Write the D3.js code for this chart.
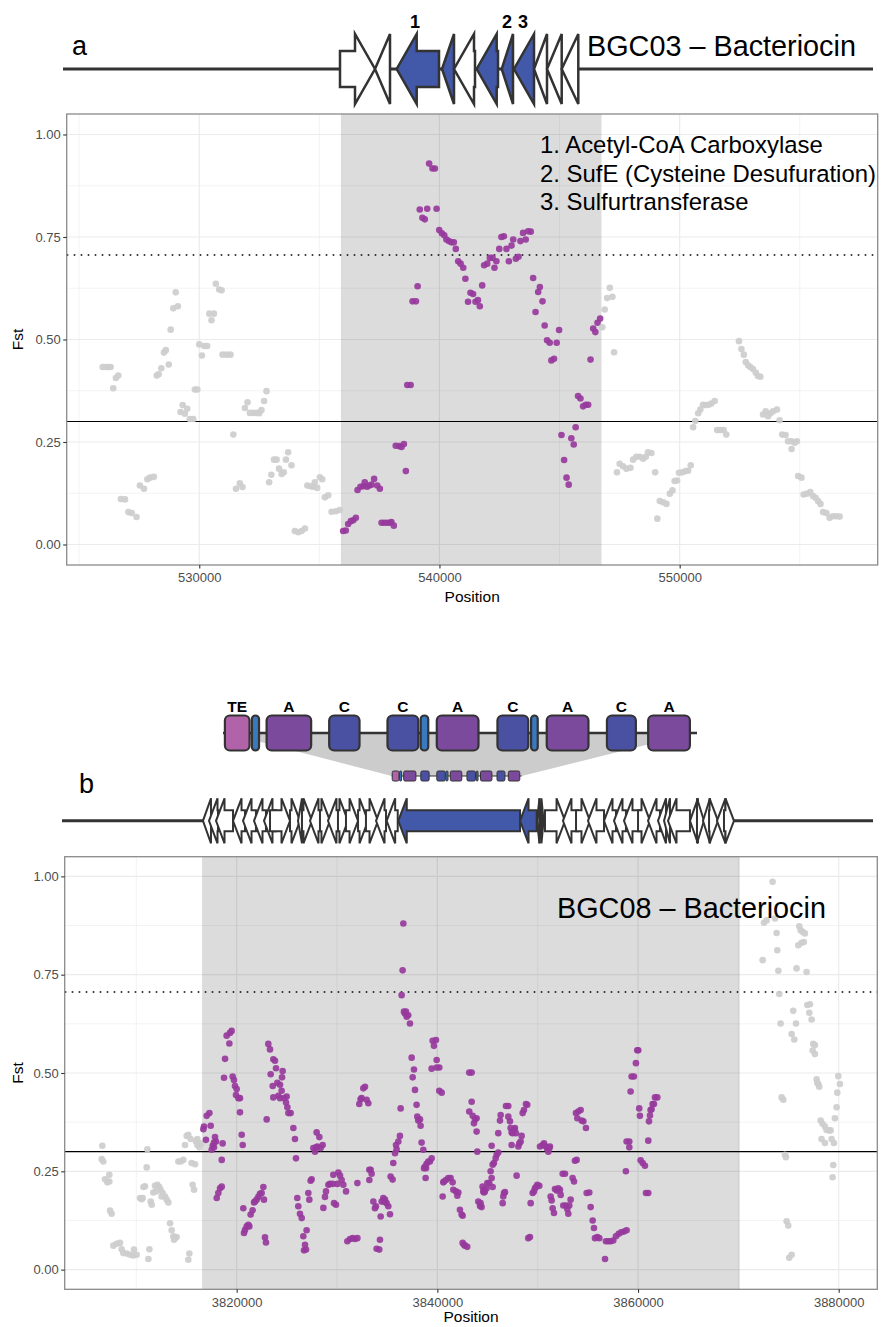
<!DOCTYPE html>
<html>
<head>
<meta charset="utf-8">
<script src="https://cdn.jsdelivr.net/npm/d3@7"></script>
<style>
  body { margin: 0; background: #fff; }
  text { font-family: "Liberation Sans", Arial, Helvetica, sans-serif; }
</style>
</head>
<body>
<div id="chart"></div>
<script>
"use strict";

// ----------------------------------------
//  Shared axis values
// ----------------------------------------
const yTicks = [0, 0.25, 0.5, 0.75, 1];
const yMinor = [0.125, 0.375, 0.625, 0.875];
const meanLine = 0.3;      // solid line
const cutLine = 0.706;     // dotted line

// ----------------------------------------
//  Panel a : BGC03
// ----------------------------------------
const regionA = [535897, 546745];
const xTicksA = [530000, 540000, 550000];
const xMinorA = [525000, 535000, 545000, 555000];
const snpsA = [
  [525980,.433],[526120,.433],[526210,.433],[526310,.433],[526420,.381],[526530,.406],[526630,.412],
  [526740,.111],[526910,.110],[527050,.079],[527190,.077],[527390,.067],[527530,.144],[527700,.136],
  [527840,.159],[527950,.163],[528110,.165],[528230,.412],[528310,.415],[528420,.430],[528530,.468],
  [528610,.474],[528730,.439],[528810,.524],[528920,.576],[529110,.581],[529020,.615],[529220,.323],
  [529400,.319],[529310,.340],[529500,.331],[529610,.306],[529750,.306],[529820,.378],[529920,.378],
  [530000,.488],[530110,.461],[530210,.484],[530330,.484],[530420,.563],[530610,.563],[530510,.547],
  [530690,.636],[530830,.622],[530930,.620],[530970,.463],[531140,.463],[531300,.463],[531420,.268],
  [531530,.136],[531690,.149],[531800,.140],[531900,.333],[532010,.347],[532110,.321],[532250,.321],
  [532390,.321],[532500,.320],[532590,.328],[532700,.350],[532800,.374],[532910,.152],[533000,.170],
  [533110,.207],[533220,.207],[533320,.185],[533430,.172],[533520,.176],[533610,.207],[533700,.225],
  [533840,.193],[533980,.033],[534120,.030],[534260,.033],[534400,.039],[534500,.144],[534630,.142],
  [534740,.141],[534810,.152],[534910,.138],[535020,.164],[535120,.159],[535230,.115],[535370,.120],
  [535510,.080],[535690,.081],[535850,.084],
  [535990,.033],[536100,.034],[536200,.050],[536310,.057],[536410,.059],[536520,.065],[536590,.133],
  [536710,.141],[536830,.142],[536890,.152],[536990,.141],[537080,.144],[537170,.146],[537280,.160],
  [537410,.144],[537520,.136],[537590,.053],[537700,.053],[537820,.053],[537940,.053],[538000,.055],
  [538100,.046],[538180,.241],[538320,.240],[538420,.238],[538520,.245],[538600,.179],[538660,.389],
  [538800,.389],[538880,.593],[539020,.593],[539090,.630],[539180,.817],[539490,.819],[539880,.819],
  [539290,.797],[539390,.793],[539570,.929],[539710,.917],[539810,.917],[539990,.767],[540100,.759],
  [540200,.754],[540290,.744],[540390,.740],[540500,.737],[540600,.737],[540680,.721],[540780,.691],
  [540880,.685],[540990,.675],[541080,.648],[541190,.592],[541290,.614],[541400,.611],[541500,.592],
  [541600,.596],[541680,.581],[541780,.632],[541860,.681],[541990,.685],[542100,.699],[542210,.699],
  [542290,.675],[542370,.691],[542490,.721],[542580,.750],[542680,.752],[542790,.721],[542890,.691],
  [543000,.729],[543070,.744],[543180,.697],[543290,.702],[543370,.740],[543480,.760],[543590,.744],
  [543690,.764],[543800,.763],[543900,.650],[544110,.616],[544180,.628],[544290,.593],[544000,.567],
  [544380,.534],[544480,.498],[544590,.492],[544660,.449],[544770,.453],[544880,.492],[544980,.523],
  [545080,.267],[545190,.206],[545290,.163],[545380,.146],[545490,.259],[545590,.244],[545670,.286],
  [545770,.362],[545870,.356],[545980,.337],[546090,.341],[546190,.341],[546290,.451],[546400,.527],
  [546490,.518],[546580,.541],[546690,.551],
  [546780,.530],[546880,.573],[546980,.601],[547090,.626],[547200,.604],[547270,.469],[547390,.176],
  [547500,.197],[547640,.191],[547780,.185],[547950,.187],[548060,.207],[548200,.214],[548340,.214],
  [548480,.209],[548590,.214],[548680,.225],[548820,.223],[548980,.176],[549070,.063],[549170,.106],
  [549310,.103],[549450,.099],[549590,.124],[549700,.132],[549790,.155],[549890,.156],[549970,.175],
  [550110,.176],[550250,.179],[550350,.180],[550460,.193],[550560,.286],[550650,.301],[550770,.320],
  [550860,.329],[550970,.341],[551080,.340],[551210,.341],[551320,.344],[551460,.350],[551560,.279],
  [551690,.279],[551830,.279],[551940,.268],[552470,.496],[552570,.477],[552670,.463],[552750,.445],
  [552850,.437],[552940,.433],[553050,.428],[553170,.419],[553260,.411],[553360,.409],[553470,.317],
  [553580,.325],[553680,.313],[553780,.320],[553890,.325],[554050,.329],[554160,.303],[554270,.268],
  [554410,.267],[554510,.252],[554650,.252],[554790,.248],[554880,.252],[554660,.233],[554930,.167],
  [555070,.163],[555160,.122],[555300,.124],[555440,.128],[555550,.118],[555660,.114],[555760,.106],
  [555860,.099],[555970,.079],[556110,.077],[556240,.065],[556380,.069],[556520,.069],[556660,.068]
];

// genes of BGC03 (kb on the track, strand, highlighted)
const genesA = [
  [0, 3.5, 1, false], [3.5, 5.0, -1, false], [5.67, 9.9, -1, true], [10.2, 11.4, -1, true],
  [11.4, 13.5, -1, false], [13.67, 15.8, -1, true], [16.17, 17.3, -1, true], [17.4, 19.4, -1, true],
  [19.4, 20.7, -1, false], [20.7, 22.17, -1, false], [22.17, 23.83, -1, false]
];
const geneLabelsA = [["1", 7.5], ["2", 16.7], ["3", 18.3]];
const notesA = ["1. Acetyl-CoA Carboxylase", "2. SufE (Cysteine Desufuration)", "3. Sulfurtransferase"];

// ----------------------------------------
//  Panel b : BGC08
// ----------------------------------------
const regionB = [3816550, 3870134];
const xTicksB = [3820000, 3840000, 3860000, 3880000];
const xMinorB = [3810000, 3830000, 3850000, 3870000];
const snpsB = [
  [3806610,.315],[3806550,.281],[3806710,.275],[3807310,.241],[3806880,.230],[3807110,.222],[3807310,.224],
  [3807380,.150],[3807540,.142],[3807710,.061],[3808040,.066],[3808370,.068],[3808540,.052],[3808700,.042],
  [3809040,.041],[3809370,.038],[3809700,.036],[3810030,.038],[3809770,.051],[3811100,.306],[3811030,.260],
  [3810860,.212],[3810700,.210],[3810370,.182],[3810530,.179],[3810630,.182],[3811430,.173],[3811530,.165],
  [3811300,.052],[3811200,.027],[3811860,.213],[3812090,.216],[3812290,.210],[3811690,.196],[3811960,.199],
  [3812420,.203],[3812620,.195],[3812860,.186],[3813020,.178],[3813190,.171],[3812520,.186],[3813360,.118],
  [3813520,.100],[3813690,.085],[3813850,.080],[3814020,.083],[3813750,.076],[3814190,.275],[3814420,.275],
  [3814680,.279],[3814850,.317],[3815020,.340],[3815180,.343],[3815410,.332],[3815510,.271],[3815850,.268],
  [3815610,.216],[3815750,.203],[3815280,.041],[3815180,.025],[3815950,.326],[3816080,.317],[3816280,.311],
  [3816450,.321],[3816080,.332],
  [3816680,.357],[3816740,.364],[3817010,.391],[3817280,.398],[3816940,.330],[3817410,.366],[3817610,.315],
  [3817510,.305],[3817840,.337],[3817940,.326],[3817740,.311],[3817740,.323],[3818010,.182],[3818170,.195],
  [3818340,.207],[3818510,.211],[3818510,.279],[3818600,.321],[3818740,.488],[3818840,.536],[3819000,.595],
  [3819270,.575],[3819500,.607],[3819330,.602],[3819600,.491],[3819730,.482],[3819830,.467],[3820000,.459],
  [3819930,.444],[3820170,.436],[3820330,.436],[3820330,.400],[3820500,.343],[3820600,.317],[3820660,.156],
  [3820830,.101],[3821000,.110],[3821160,.114],[3821260,.110],[3820730,.093],[3821390,.140],[3821590,.151],
  [3821730,.171],[3821990,.178],[3822160,.185],[3822320,.193],[3822490,.195],[3822660,.210],[3822720,.178],
  [3821830,.173],[3822820,.082],[3822920,.069],[3822990,.382],[3823150,.574],[3823320,.560],[3823650,.535],
  [3823820,.531],[3823920,.512],[3823390,.497],[3823590,.467],[3824050,.475],[3824320,.470],[3824480,.455],
  [3824580,.505],[3824520,.489],[3823650,.438],[3824150,.442],[3824320,.436],[3824720,.436],[3824920,.425],
  [3825050,.413],[3825150,.398],[3825380,.398],[3824980,.440],[3825650,.360],[3825810,.332],[3825910,.283],
  [3826040,.182],[3826140,.161],[3826310,.142],[3826480,.131],[3826640,.085],[3826810,.063],[3826910,.051],
  [3826710,.049],[3826970,.100],[3827140,.195],[3827240,.178],[3827370,.226],[3827470,.230],[3827640,.309],
  [3827810,.300],[3827970,.349],[3828240,.337],[3828040,.313],[3828370,.309],[3828570,.317],[3827910,.311],
  [3828640,.157],[3828800,.185],[3828900,.199],[3829140,.216],[3829300,.218],[3829570,.218],[3829700,.169],
  [3829900,.165],[3829630,.241],[3830130,.247],[3830300,.239],[3830460,.228],[3830630,.216],[3830900,.199],
  [3830030,.218],[3831030,.072],[3831300,.078],[3831560,.080],[3831790,.078],[3832030,.080],[3832030,.220],
  [3832220,.421],[3832450,.436],[3832620,.461],[3832790,.465],[3832950,.432],[3833120,.423],[3832350,.433],
  [3833220,.228],[3833350,.254],[3833450,.244],[3833220,.254],[3833620,.173],[3833780,.156],[3833880,.161],
  [3834450,.173],[3834610,.182],[3834780,.178],[3834940,.169],[3835110,.161],[3835280,.141],[3834350,.135],
  [3834280,.076],[3833950,.053],[3834210,.051],[3834680,.173],[3835340,.237],[3835540,.229],[3835610,.271],
  [3835780,.296],[3835940,.306],[3836110,.326],[3836270,.340],[3836340,.410],[3835880,.317],[3836610,.880],
  [3836540,.761],[3836440,.698],[3836670,.656],[3836870,.656],[3837100,.647],[3836940,.643],[3837270,.626],
  [3836770,.651],[3837440,.539],[3837670,.509],[3837540,.489],[3837770,.457],[3837930,.419],[3838000,.389],
  [3838270,.382],[3838100,.379],[3838330,.366],[3838430,.323],[3838600,.305],[3838770,.262],[3838930,.269],
  [3839100,.275],[3839260,.275],[3839430,.283],[3838870,.258],[3838670,.258],[3838830,.233],[3839530,.582],
  [3839860,.584],[3839660,.569],[3839930,.533],[3839430,.511],[3839930,.514],[3840190,.514],[3840190,.455],
  [3840430,.450],[3840530,.186],[3840590,.222],[3840860,.228],[3841090,.233],[3841320,.233],[3841520,.222],
  [3840660,.224],[3841590,.203],[3841850,.199],[3842090,.196],[3841990,.188],[3842250,.152],[3842420,.140],
  [3842520,.137],[3842520,.068],[3842750,.061],[3842980,.058],[3842650,.063],[3843180,.501],[3843420,.501],
  [3843180,.402],[3843420,.427],[3843520,.391],[3843750,.382],[3843910,.385],[3843650,.372],[3843910,.351],
  [3843980,.300],[3844080,.173],[3844250,.162],[3844410,.159],[3844310,.169],[3844510,.211],[3844650,.203],
  [3844740,.199],[3844910,.207],[3845180,.220],[3845410,.233],[3845510,.210],[3844980,.220],[3844580,.199],
  [3844650,.196],[3845310,.250],[3845510,.267],[3845640,.271],[3845810,.283],[3845910,.292],[3846070,.298],
  [3845410,.315],[3846070,.347],[3846240,.379],[3846310,.393],[3846510,.169],[3846570,.186],[3846640,.195],
  [3846740,.197],[3846840,.416],[3847070,.416],[3847070,.389],[3847240,.377],[3847300,.360],[3847400,.349],
  [3847500,.347],[3847640,.357],[3847730,.360],[3847400,.317],[3847830,.347],[3847900,.239],[3848070,.313],
  [3848170,.321],[3848300,.326],[3848400,.340],[3848500,.398],[3848630,.406],[3848830,.421],[3848960,.419],
  [3849060,.080],[3849230,.083],[3849300,.169],[3849500,.195],[3849630,.199],[3849830,.210],[3849960,.216],
  [3850160,.213],[3849730,.207],[3850230,.313],[3850490,.317],[3850630,.321],[3850820,.313],[3850960,.306],
  [3851160,.309],[3851060,.300],[3851220,.313],[3851290,.186],[3851390,.176],[3851490,.156],[3851620,.144],
  [3851720,.205],[3851890,.201],[3852050,.207],[3852220,.203],[3852290,.190],[3852490,.244],[3852720,.244],
  [3852820,.163],[3852950,.154],[3853150,.163],[3853280,.178],[3853050,.142],[3852550,.163],[3853480,.233],
  [3853620,.224],[3853710,.277],[3853880,.279],[3853810,.398],[3854050,.402],[3854280,.406],[3853950,.385],
  [3854380,.379],[3854550,.377],[3854810,.360],[3854880,.195],[3855140,.196],[3855280,.159],[3855480,.125],
  [3855610,.106],[3855710,.080],[3855940,.083],[3856140,.080],[3856710,.027],[3856800,.072],[3857040,.072],
  [3857270,.072],[3857530,.074],[3857800,.085],[3858070,.091],[3858330,.095],[3858600,.097],[3858860,.100],
  [3858790,.250],[3858860,.326],[3859130,.326],[3859130,.311],[3859260,.453],[3859360,.491],[3859590,.491],
  [3859790,.525],[3859920,.558],[3860020,.558],[3860120,.410],[3860190,.391],[3860260,.278],[3860460,.271],
  [3860690,.264],[3860790,.195],[3861020,.195],[3861020,.328],[3861090,.377],[3861190,.392],[3861250,.406],
  [3861350,.408],[3861450,.421],[3861590,.421],[3861690,.438],[3861920,.438],
  [3872420,.787],[3872550,.882],[3872810,.888],[3873410,.986],[3873650,.893],[3873810,.856],[3873880,.812],
  [3873980,.760],[3874080,.701],[3874210,.626],[3874310,.438],[3874480,.432],[3874640,.292],[3874740,.286],
  [3874810,.123],[3874970,.112],[3875070,.030],[3875310,.038],[3875470,.658],[3875740,.626],[3875310,.599],
  [3875570,.585],[3875800,.766],[3876070,.873],[3876200,.863],[3876400,.859],[3876630,.855],[3875970,.825],
  [3876300,.831],[3876530,.833],[3876800,.757],[3876870,.673],[3877130,.675],[3877070,.653],[3877300,.636],
  [3877460,.574],[3877630,.571],[3877400,.557],[3877630,.548],[3877800,.484],[3877960,.472],[3878060,.465],
  [3877860,.475],[3878200,.379],[3878390,.371],[3878630,.364],[3878790,.355],[3879060,.354],[3879190,.354],
  [3878290,.332],[3878630,.322],[3879290,.332],[3879520,.322],[3879460,.266],[3879390,.235],[3879620,.385],
  [3879790,.413],[3879860,.450],[3879960,.492],[3880120,.472]
];

// genes of BGC08 (kb on the track, strand, highlighted)
const genesB = [
  [0.33,1.22,-1,false],[1.0,2.0,-1,false],[1.78,3.67,-1,false],[3.67,5.0,-1,false],[4.78,6.22,-1,false],
  [6.0,7.33,-1,false],[7.11,8.44,-1,false],[7.78,10.0,1,false],[10.0,11.11,1,false],[10.89,11.33,-1,false],
  [11.33,12.44,1,false],[12.22,13.56,-1,false],[13.33,14.44,1,false],[14.22,15.56,-1,false],[15.33,16.44,1,false],
  [16.22,17.56,1,false],[17.56,18.67,1,false],[18.44,19.78,1,false],[19.56,20.67,-1,false],[20.74,21.97,-1,false],
  [22.03,35.56,-1,true],[35.56,37.41,-1,true],[37.44,37.72,-1,false],[37.72,37.94,1,false],[37.94,38.17,1,false],
  [38.33,40.56,1,false],[40.33,42.0,-1,false],[41.78,43.33,1,false],[43.11,44.89,-1,false],[44.89,46.22,-1,false],
  [46.0,47.33,-1,false],[47.11,48.89,-1,false],[48.67,50.0,1,false],[49.78,51.11,-1,false],[50.89,51.78,-1,false],
  [51.56,52.22,-1,false],[52.0,54.44,-1,false],[54.44,55.33,-1,false],[55.22,56.0,1,false],[55.89,56.67,-1,false],
  [56.56,57.56,1,false],[57.44,58.44,-1,false],[58.22,59.33,1,false]
];

// NRPS domains of the highlighted gene (percent of gene length)
const domainStart = [0.4, 6.1, 9.2, 22.4, 34.7, 41.7, 45.1, 57.9, 65.0, 68.3, 81.0, 89.7];
const domainEnd   = [5.6, 7.6, 18.6, 28.8, 41.2, 43.3, 53.9, 64.4, 66.4, 77.1, 87.1, 98.5];
const domainType  = ["TE", "T", "A", "C", "C", "T", "A", "C", "T", "A", "C", "A"];

// ----------------------------------------
//  Drawing
// ----------------------------------------
const purple = "#97399c";
const grey = "#cdcdcd";
const dark = "#333333";

const svg = d3.select("#chart").append("svg")
    .attr("width", 881)
    .attr("height", 1327);

function drawScatter(o) {
    let x = d3.scaleLinear().domain(o.xDomain).range([o.left, o.right]);
    let y = d3.scaleLinear().domain([-0.05, 1.05]).range([o.bottom, o.top]);
    let g = svg.append("g");

    g.append("rect")
        .attr("x", o.left).attr("y", o.top)
        .attr("width", o.right - o.left).attr("height", o.bottom - o.top)
        .attr("fill", "#fff");

    // grid (minor first)
    g.selectAll(null).data(o.xMinor).enter().append("line")
        .attr("x1", d => x(d)).attr("x2", d => x(d))
        .attr("y1", o.top).attr("y2", o.bottom)
        .attr("stroke", "#ebebeb").attr("stroke-width", 0.6);
    g.selectAll(null).data(yMinor).enter().append("line")
        .attr("x1", o.left).attr("x2", o.right)
        .attr("y1", d => y(d)).attr("y2", d => y(d))
        .attr("stroke", "#ebebeb").attr("stroke-width", 0.6);
    g.selectAll(null).data(o.xTicks).enter().append("line")
        .attr("x1", d => x(d)).attr("x2", d => x(d))
        .attr("y1", o.top).attr("y2", o.bottom)
        .attr("stroke", "#ebebeb").attr("stroke-width", 1.2);
    g.selectAll(null).data(yTicks).enter().append("line")
        .attr("x1", o.left).attr("x2", o.right)
        .attr("y1", d => y(d)).attr("y2", d => y(d))
        .attr("stroke", "#ebebeb").attr("stroke-width", 1.2);

    // shaded cluster region
    g.append("rect")
        .attr("x", x(o.region[0])).attr("y", o.top)
        .attr("width", x(o.region[1]) - x(o.region[0]))
        .attr("height", o.bottom - o.top)
        .attr("fill", "#000").attr("fill-opacity", 0.137);

    // reference lines
    g.append("line")
        .attr("x1", o.left).attr("x2", o.right)
        .attr("y1", y(meanLine)).attr("y2", y(meanLine))
        .attr("stroke", "#000").attr("stroke-width", 1.1);
    g.append("line")
        .attr("x1", o.left).attr("x2", o.right)
        .attr("y1", y(cutLine)).attr("y2", y(cutLine))
        .attr("stroke", "#000").attr("stroke-width", 1.4)
        .attr("stroke-dasharray", "1.6,5.4");

    // SNP points
    g.selectAll(null).data(o.pts).enter().append("circle")
        .attr("cx", d => x(d[0])).attr("cy", d => y(d[1]))
        .attr("r", 3.3)
        .attr("fill", d => (d[0] >= o.region[0] && d[0] <= o.region[1]) ? purple : grey)
        .attr("fill-opacity", 0.92);

    // border
    g.append("rect")
        .attr("x", o.left).attr("y", o.top)
        .attr("width", o.right - o.left).attr("height", o.bottom - o.top)
        .attr("fill", "none").attr("stroke", "#8a8a8a").attr("stroke-width", 1.3);

    // axes
    let xa = g.append("g")
        .attr("transform", "translate(0," + o.bottom + ")")
        .call(d3.axisBottom(x).tickValues(o.xTicks).tickSize(3.5).tickPadding(4.5).tickFormat(d3.format("d")));
    let ya = g.append("g")
        .attr("transform", "translate(" + o.left + ",0)")
        .call(d3.axisLeft(y).tickValues(yTicks).tickSize(3.5).tickPadding(2.5).tickFormat(d3.format(".2f")));
    [xa, ya].forEach(a => {
        a.select(".domain").remove();
        a.selectAll(".tick line").attr("stroke", dark).attr("stroke-width", 1.1);
        a.selectAll(".tick text")
            .attr("fill", "#4d4d4d")
            .style("font-size", "13px")
            .style("font-family", "'Liberation Sans', Arial, sans-serif");
    });

    g.append("text")
        .attr("x", (o.left + o.right) / 2).attr("y", o.bottom + o.titleGap)
        .attr("text-anchor", "middle")
        .style("font-size", "15.5px")
        .text("Position");
    g.append("text")
        .attr("transform", "translate(23," + ((o.top + o.bottom) / 2) + ") rotate(-90)")
        .attr("text-anchor", "middle")
        .style("font-size", "15.5px")
        .text("Fst");
}

function arrowPoints(x0, x1, strand, cy, bodyH, headH, headL) {
    let len = x1 - x0;
    let hl = Math.min(headL, len);
    let pts;
    if (strand > 0) {
        let hb = x1 - hl;
        pts = [[x0, cy - bodyH], [hb, cy - bodyH], [hb, cy - headH], [x1, cy],
               [hb, cy + headH], [hb, cy + bodyH], [x0, cy + bodyH]];
        if (len <= headL) pts = [[x0, cy - headH], [x1, cy], [x0, cy + headH]];
    } else {
        let hb = x0 + hl;
        pts = [[x1, cy - bodyH], [hb, cy - bodyH], [hb, cy - headH], [x0, cy],
               [hb, cy + headH], [hb, cy + bodyH], [x1, cy + bodyH]];
        if (len <= headL) pts = [[x1, cy - headH], [x0, cy], [x1, cy + headH]];
    }
    return pts.map(p => p.join(",")).join(" ");
}

function drawGenes(genes, scale, cy, lineX, bodyH, headH, headL, sw) {
    svg.append("line")
        .attr("x1", lineX[0]).attr("x2", lineX[1])
        .attr("y1", cy).attr("y2", cy)
        .attr("stroke", dark).attr("stroke-width", 3);
    svg.append("g").selectAll("polygon").data(genes).enter().append("polygon")
        .attr("points", d => arrowPoints(scale(d[0]), scale(d[1]), d[2], cy, bodyH, headH, headL))
        .attr("fill", d => d[3] ? "#4259a9" : "#fff")
        .attr("stroke", dark)
        .attr("stroke-width", sw)
        .attr("stroke-linejoin", "miter");
}

// ---------------- panel a ----------------
const geneScaleA = d3.scaleLinear().domain([0, 24]).range([340, 580]);
drawGenes(genesA, geneScaleA, 69, [63, 873], 18, 35, 20, 2.5);

svg.selectAll(".glab").data(geneLabelsA).enter().append("text")
    .attr("x", d => geneScaleA(d[1])).attr("y", 28)
    .attr("text-anchor", "middle")
    .style("font-size", "18px").style("font-weight", "bold")
    .text(d => d[0]);

svg.append("text").attr("x", 72).attr("y", 55).style("font-size", "27px").text("a");
svg.append("text").attr("x", 587).attr("y", 55.5).style("font-size", "28.8px").text("BGC03 \u2013 Bacteriocin");

drawScatter({
    left: 66.7, right: 877.7, top: 114, bottom: 565, titleGap: 37,
    xDomain: [524482, 558244],
    xTicks: xTicksA, xMinor: xMinorA, region: regionA, pts: snpsA
});

svg.selectAll(".note").data(notesA).enter().append("text")
    .attr("x", 540).attr("y", (d, i) => 153.3 + i * 28.4)
    .style("font-size", "23.9px")
    .text(d => d);

// ---------------- panel b ----------------
svg.append("text").attr("x", 79).attr("y", 793).style("font-size", "27px").text("b");

// domain architecture (large and small copies)
const domColor = { TE: "#b163a9", T: "#3a79bd", A: "#7b4a9c", C: "#4a51a3" };
const domBig = d3.scaleLinear().domain([0, 100]).range([223, 697]);
const domSmall = d3.scaleLinear().domain([0, 100]).range([391.7, 521.7]);
const domains = domainType.map((t, i) => ({ type: t, s: domainStart[i], e: domainEnd[i] }));

svg.append("polygon")
    .attr("points", [[226, 733], [694, 733], [521.7, 776], [391.7, 776]].map(p => p.join(",")).join(" "))
    .attr("fill", "#cccccc");

function drawDomains(scale, cy, h, sw, rx, labels) {
    let r = scale.range();
    svg.append("line")
        .attr("x1", r[0]).attr("x2", r[1]).attr("y1", cy).attr("y2", cy)
        .attr("stroke", dark).attr("stroke-width", sw * 1.2);
    svg.append("g").selectAll("rect").data(domains).enter().append("rect")
        .attr("x", d => scale(d.s)).attr("width", d => scale(d.e) - scale(d.s))
        .attr("y", cy - h / 2).attr("height", h)
        .attr("rx", d => d.type === "T" ? (scale(d.e) - scale(d.s)) / 2 : rx)
        .attr("fill", d => domColor[d.type])
        .attr("stroke", dark).attr("stroke-width", sw);
    if (labels) {
        svg.append("g").selectAll("text").data(domains.filter(d => d.type !== "T")).enter().append("text")
            .attr("x", d => (scale(d.s) + scale(d.e)) / 2).attr("y", cy - h / 2 - 4)
            .attr("text-anchor", "middle")
            .style("font-size", "15.5px").style("font-weight", "bold")
            .text(d => d.type);
    }
}
drawDomains(domBig, 733, 35, 2.2, 5, true);
drawDomains(domSmall, 776, 10, 1, 1.5, false);

const geneScaleB = d3.scaleLinear().domain([0, 60]).range([200, 740]);
drawGenes(genesB, geneScaleB, 820.8, [62, 873], 10.5, 22.5, 8.5, 2);

drawScatter({
    left: 64.7, right: 877.3, top: 856.7, bottom: 1289.3, titleGap: 33,
    xDomain: [3802860, 3883846],
    xTicks: xTicksB, xMinor: xMinorB, region: regionB, pts: snpsB
});

svg.append("text").attr("x", 557).attr("y", 918).style("font-size", "28.8px").text("BGC08 \u2013 Bacteriocin");
</script>
</body>
</html>
